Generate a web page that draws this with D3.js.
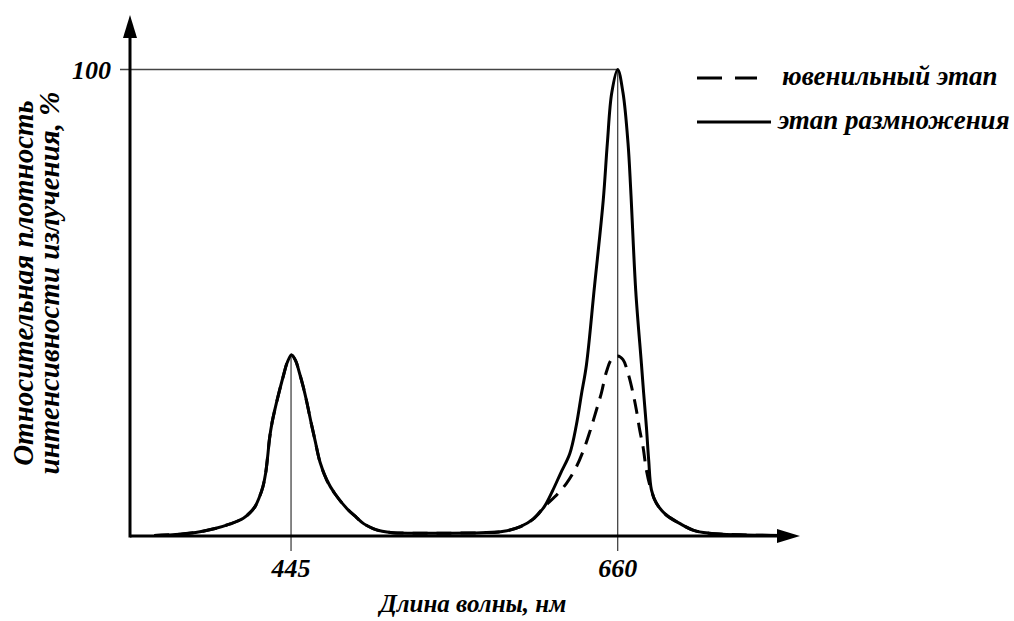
<!DOCTYPE html>
<html><head><meta charset="utf-8">
<script src="https://cdn.jsdelivr.net/npm/d3@7"></script>
<style>body{margin:0;background:#fff}svg{display:block}text{font-family:"Liberation Serif","Times New Roman",serif;font-weight:bold;font-style:italic;fill:#000}</style>
</head><body><svg id="c" width="1014" height="621"></svg>
<script>
// wavelength (nm) and relative intensity (%)
const breedingNm  = [355,372,385,395,405,413.6,418,421.3,424,426.5,428.3,429.6,430.8,432.5,435,437.5,440,442.5,445.3,448,450.5,453,455.5,458,460.8,464.1,468.5,474,481.7,488,493,499,505,512,525,545,570,585,596,604.3,611.5,617,622.5,628.5,632.8,636.1,639.4,644.7,650.5,653.2,656.1,660,663.5,666.8,668.6,671.9,675.6,677.1,678.9,680.4,682.2,685.5,692,700.8,710,720,740,770];
const breedingVal = [0.1,0.4,0.9,1.6,2.6,3.8,5.0,6.3,8.2,10.6,13.5,17,20.8,24.3,28,31.3,34.4,37.2,38.8,37.6,35,32,28.5,24.6,20.5,15.8,12,9,5.9,4,2.6,1.6,1,0.7,0.6,0.6,0.7,1.0,2.0,3.6,6.2,9.6,13.5,17.7,23.8,30.3,36.6,53.4,72,84.2,95,100,95,84.2,74.1,52.5,37,30.6,23.4,16.3,9.9,7,4.5,2.7,1.2,0.6,0.25,0.1];
const juvenileNm  = [355,372,385,395,405,413.6,418,421.3,424,426.5,428.3,429.6,430.8,432.5,435,437.5,440,442.5,445.3,448,450.5,453,455.5,458,460.8,464.1,468.5,474,481.7,488,493,499,505,512,525,545,570,585,596,604.3,611.5,618.6,626.3,632.9,638.3,642,646,649.3,652.6,656,660,663.5,666.8,670.1,672.3,674.5,676.7,678.9,681.5,685.5,692,700.8,710,720,740,770];
const juvenileVal = [0.1,0.4,0.9,1.6,2.6,3.8,5.0,6.3,8.2,10.6,13.5,17,20.8,24.3,28,31.3,34.4,37.2,38.8,37.6,35,32,28.5,24.6,20.5,15.8,12,9,5.9,4,2.6,1.6,1,0.7,0.6,0.6,0.7,1.0,2.0,3.6,6.2,8.4,11.3,14.9,19.1,22.7,27,30.7,35.2,37.9,38.6,37.8,34.9,30.6,27,22.7,19.1,14.1,10.5,7,4.5,2.7,1.2,0.6,0.25,0.1];
const xTicks = [445, 660];
const yTicks = [100];
const xTitle = "Длина волны, нм";
const yTitle = ["Относительная плотность", "интенсивности излучения, %"];
const legendLabels = ["ювенильный этап", "этап размножения"];

const svg = d3.select("#c");
const x = d3.scaleLinear().domain([339, 780]).range([130, 800]);
const y = d3.scaleLinear().domain([0, 100]).range([536, 69.5]);

// reference lines
svg.append("line").attr("x1", 120).attr("x2", x(660)).attr("y1", y(100)).attr("y2", y(100))
  .attr("stroke", "#444").attr("stroke-width", 1.5);
const peakOf = {445: 38.8, 660: 100};
xTicks.forEach(t => {
  svg.append("line").attr("x1", x(t)).attr("x2", x(t)).attr("y1", 551).attr("y2", y(peakOf[t]))
    .attr("stroke", "#444").attr("stroke-width", 1.3);
});

// axes
const x0 = x(339), yb = y(0);
svg.append("line").attr("x1", x0).attr("x2", 780).attr("y1", yb).attr("y2", yb).attr("stroke", "#000").attr("stroke-width", 3);
svg.append("path").attr("d", `M800,${yb} L777,${yb-7} L777,${yb+7} Z`).attr("fill", "#000");
svg.append("line").attr("x1", x0).attr("x2", x0).attr("y1", yb+1.5).attr("y2", 35).attr("stroke", "#000").attr("stroke-width", 3);
svg.append("path").attr("d", `M${x0},15 L${x0-7},38 L${x0+7},38 Z`).attr("fill", "#000");

// tick labels
svg.selectAll(".xt").data(xTicks).join("text").attr("class", "xt")
  .attr("x", d => x(d)).attr("y", 577).attr("text-anchor", "middle").attr("font-size", 26).text(d => d);
svg.selectAll(".yt").data(yTicks).join("text").attr("class", "yt")
  .attr("x", 111).attr("y", d => y(d) + 9).attr("text-anchor", "end").attr("font-size", 26).text(d => d);

// titles
svg.append("text").attr("x", 473).attr("y", 612).attr("text-anchor", "middle").attr("font-size", 25).text(xTitle);
svg.append("text").attr("transform", "translate(33,283) rotate(-90)").attr("text-anchor", "middle").attr("font-size", 29).text(yTitle[0]);
svg.append("text").attr("transform", "translate(59,283) rotate(-90)").attr("text-anchor", "middle").attr("font-size", 29).text(yTitle[1]);

// curves
const line = d3.line().x(d => x(d[0])).y(d => y(d[1])).curve(d3.curveCatmullRom.alpha(0.5));
svg.append("path").datum(d3.zip(juvenileNm, juvenileVal)).attr("d", line)
  .attr("fill", "none").attr("stroke", "#000").attr("stroke-width", 3).attr("stroke-dasharray", "15,9");
svg.append("path").datum(d3.zip(breedingNm, breedingVal)).attr("d", line)
  .attr("fill", "none").attr("stroke", "#000").attr("stroke-width", 3);

// legend
svg.append("line").attr("x1", 697).attr("x2", 757).attr("y1", 78).attr("y2", 78)
  .attr("stroke", "#000").attr("stroke-width", 3).attr("stroke-dasharray", "25,13");
svg.append("text").attr("x", 782).attr("y", 85).attr("font-size", 27).text(legendLabels[0]);
svg.append("line").attr("x1", 697).attr("x2", 771).attr("y1", 122).attr("y2", 122)
  .attr("stroke", "#000").attr("stroke-width", 3);
svg.append("text").attr("x", 778).attr("y", 129).attr("font-size", 27).text(legendLabels[1]);
</script></body></html>
